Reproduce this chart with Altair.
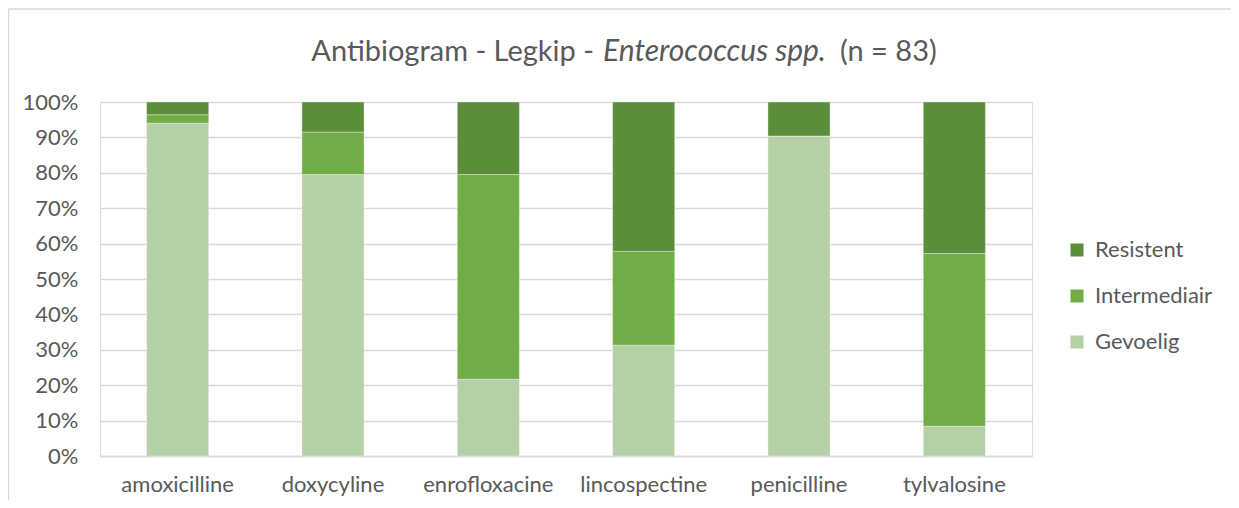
import altair as alt
import pandas as pd

antibiotics = ["amoxicilline", "doxycyline", "enrofloxacine", "lincospectine", "penicilline", "tylvalosine"]
gevoelig = [94.0, 79.5, 21.7, 31.3, 90.4, 8.4]
intermediair = [2.4, 12.0, 57.8, 26.5, 0.0, 48.8]
resistent = [3.6, 8.5, 20.5, 42.2, 9.6, 42.8]
categories = ["Resistent", "Intermediair", "Gevoelig"]
colors = ["#5B8E3A", "#70AD47", "#B5CFA7"]
y_ticks = [0, 10, 20, 30, 40, 50, 60, 70, 80, 90, 100]

rows = []
for i, ab in enumerate(antibiotics):
    rows.append({"antibioticum": ab, "categorie": "Gevoelig", "pct": gevoelig[i], "rank": 0})
    rows.append({"antibioticum": ab, "categorie": "Intermediair", "pct": intermediair[i], "rank": 1})
    rows.append({"antibioticum": ab, "categorie": "Resistent", "pct": resistent[i], "rank": 2})
df = pd.DataFrame(rows)

FONT = "Lato"
GREY = "#595959"
W, H = 932, 354

bars = alt.Chart(df).mark_bar(stroke="white", strokeWidth=0.8, strokeOpacity=0.45).encode(
    x=alt.X("antibioticum:N", sort=antibiotics, title=None,
            scale=alt.Scale(paddingInner=0.6, paddingOuter=0.3),
            axis=alt.Axis(labelAngle=0, ticks=False, domainColor="#D9D9D9", domainWidth=1.3,
                          labelFont=FONT, labelFontSize=22, labelColor=GREY, labelPadding=18)),
    y=alt.Y("pct:Q", stack="zero", title=None,
            scale=alt.Scale(domain=[0, 100], nice=False),
            axis=alt.Axis(values=y_ticks, labelExpr="datum.value + '%'", ticks=False, domain=False,
                          grid=True, gridColor="#D9D9D9", gridWidth=1.3,
                          labelFont=FONT, labelFontSize=22, labelColor=GREY, labelPadding=22)),
    color=alt.Color("categorie:N",
                    scale=alt.Scale(domain=categories, range=colors),
                    legend=alt.Legend(title=None, orient="none", legendX=966, legendY=137,
                                      symbolType="square", symbolSize=169, symbolStrokeWidth=0,
                                      labelFont=FONT, labelFontSize=22, labelColor=GREY,
                                      labelOffset=7, rowPadding=24)),
    order=alt.Order("rank:Q"),
)

title_y = -50
TS = 29
t1 = alt.Chart(pd.DataFrame({"t": ["Antibiogram - Legkip -"]})).mark_text(
    font=FONT, fontSize=TS, color=GREY, align="right", baseline="middle"
).encode(text="t:N", x=alt.value(494), y=alt.value(title_y))
t2 = alt.Chart(pd.DataFrame({"t": ["Enterococcus spp."]})).mark_text(
    font=FONT, fontSize=30, color=GREY, align="left", baseline="middle", fontStyle="italic"
).encode(text="t:N", x=alt.value(503), y=alt.value(title_y))
t3 = alt.Chart(pd.DataFrame({"t": ["(n = 83)"]})).mark_text(
    font=FONT, fontSize=TS, color=GREY, align="left", baseline="middle"
).encode(text="t:N", x=alt.value(740), y=alt.value(title_y))

border_top = alt.Chart(pd.DataFrame({"a": [0]})).mark_rule(color="#D9D9D9", strokeWidth=1.3).encode(
    x=alt.value(-91.5), x2=alt.value(1131), y=alt.value(-93))
border_left = alt.Chart(pd.DataFrame({"a": [0]})).mark_rule(color="#D9D9D9", strokeWidth=1.3).encode(
    x=alt.value(-91.5), y=alt.value(-93), y2=alt.value(398))

chart = alt.layer(border_top, border_left, bars, t1, t2, t3).properties(
    width=W, height=H,
    padding={"left": 92, "top": 94, "right": 199, "bottom": 44},
    autosize=alt.AutoSizeParams(type="none"),
).configure_view(stroke=None).configure(background="white")

chart.save("out.html", embed_options={"renderer": "svg", "actions": False})
